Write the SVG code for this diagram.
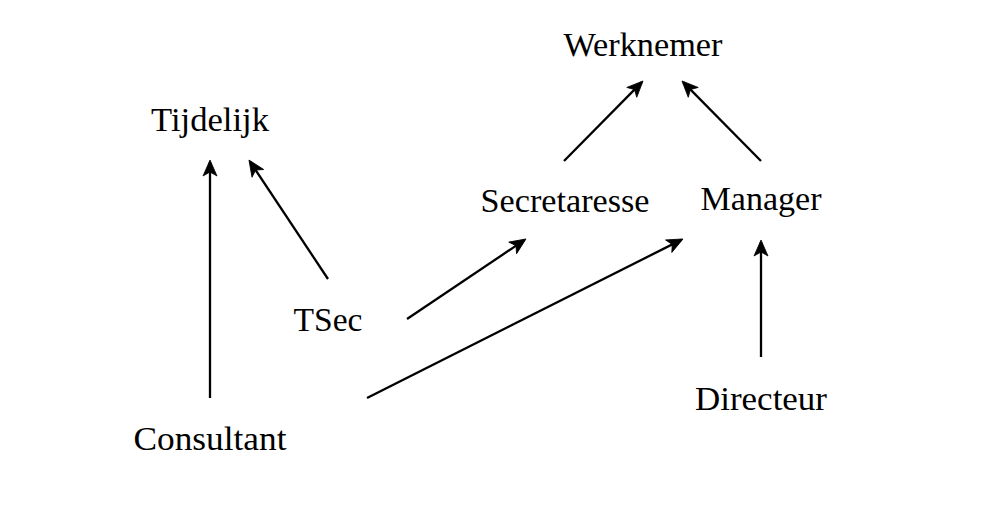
<svg xmlns="http://www.w3.org/2000/svg" width="981" height="505" viewBox="0 0 981 505">
<style>
text{font-family:"Liberation Serif","Times New Roman",serif;font-size:34px;fill:#000;text-anchor:middle}
.e{stroke:#000;stroke-width:2.3;fill:none;marker-end:url(#ah)}
</style>
<defs>
<marker id="ah" markerUnits="userSpaceOnUse" refX="-2" refY="0" markerWidth="24" markerHeight="24" orient="auto" overflow="visible">
<path d="M0,0 L-16,-7 L-12,0 L-16,7 Z" fill="#000" stroke="#000" stroke-width="0.8" stroke-linejoin="miter"/>
</marker>
</defs>
<rect width="981" height="505" fill="#fff"/>
<g id="connectors">
<line class="e" x1="210" y1="398" x2="210" y2="162"/>
<line class="e" x1="328" y1="279" x2="250.1" y2="161.7"/>
<line class="e" x1="407" y1="319" x2="524.3" y2="240.1"/>
<line class="e" x1="367" y1="398" x2="681.2" y2="239.9"/>
<line class="e" x1="564" y1="161" x2="641.6" y2="82.4"/>
<line class="e" x1="761" y1="161" x2="683.4" y2="82.4"/>
<line class="e" x1="761" y1="357" x2="761" y2="242"/>
</g>
<g id="werknemer"><text x="643" y="56" textLength="159" lengthAdjust="spacingAndGlyphs">Werknemer</text></g>
<g id="tijdelijk"><text x="210" y="131" textLength="118" lengthAdjust="spacingAndGlyphs">Tijdelijk</text></g>
<g id="secretaresse"><text x="565" y="212" textLength="169" lengthAdjust="spacingAndGlyphs">Secretaresse</text></g>
<g id="manager"><text x="761" y="210" textLength="121" lengthAdjust="spacingAndGlyphs">Manager</text></g>
<g id="tsec"><text x="328" y="331" textLength="69" lengthAdjust="spacingAndGlyphs">TSec</text></g>
<g id="consultant"><text x="210" y="450" textLength="153" lengthAdjust="spacingAndGlyphs">Consultant</text></g>
<g id="directeur"><text x="761" y="410" textLength="132" lengthAdjust="spacingAndGlyphs">Directeur</text></g>
</svg>
